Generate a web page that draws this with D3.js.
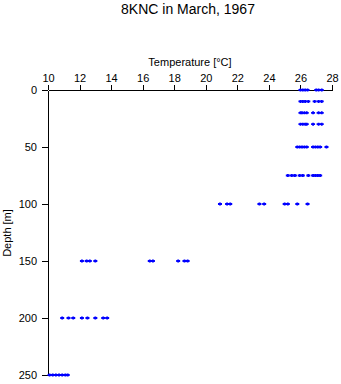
<!DOCTYPE html>
<html><head><meta charset="utf-8">
<script src="https://cdn.jsdelivr.net/npm/d3@7"></script>
<style>body{margin:0;background:#fff}svg{display:block}text{font-family:"Liberation Sans",Arial,sans-serif;fill:#000}</style>
</head><body><svg id="c" width="341" height="384"></svg>
<script>
const depths = [0, 10, 20, 30, 50, 75, 100, 150, 200, 250];
const temps0 = [26.0, 26.15, 26.3, 26.45, 27.0, 27.15, 27.35];
const temps10 = [26.0, 26.15, 26.3, 26.5, 26.9, 27.15, 27.35];
const temps20 = [26.0, 26.1, 26.25, 26.4, 26.8, 27.15, 27.35];
const temps30 = [26.0, 26.15, 26.3, 26.4, 26.8, 27.15, 27.35];
const temps50 = [25.8, 25.95, 26.1, 26.25, 26.4, 26.8, 26.95, 27.1, 27.25, 27.65];
const temps75 = [25.2, 25.45, 25.65, 25.95, 26.15, 26.5, 26.8, 26.95, 27.1, 27.25];
const temps100 = [20.9, 21.35, 21.55, 23.4, 23.7, 25.0, 25.2, 25.8, 26.45];
const temps150 = [12.15, 12.45, 12.65, 13.0, 16.45, 16.65, 18.25, 18.65, 18.85];
const temps200 = [10.9, 11.3, 11.6, 12.15, 12.5, 13.0, 13.5, 13.75];
const temps250 = [10.1, 10.3, 10.5, 10.7, 10.9, 11.1, 11.25];
const tempsByDepth = [temps0, temps10, temps20, temps30, temps50, temps75, temps100, temps150, temps200, temps250];
const xTicks = [10, 12, 14, 16, 18, 20, 22, 24, 26, 28];
const yTicks = [0, 50, 100, 150, 200, 250];

const svg = d3.select("#c");
const x = d3.scaleLinear().domain([10, 28]).range([48, 332]);
const y = d3.scaleLinear().domain([0, 250]).range([90, 375]);

const pts = [];
depths.forEach((d, i) => tempsByDepth[i].forEach(t => pts.push({d, t})));

svg.append("text").attr("x", 188).attr("y", 14).attr("text-anchor", "middle")
  .style("font-size", "14px").text("8KNC in March, 1967");
svg.append("text").attr("x", 190).attr("y", 66).attr("text-anchor", "middle")
  .style("font-size", "11px").text("Temperature [°C]");
svg.append("text").attr("transform", "translate(11,233) rotate(-90)").attr("text-anchor", "middle")
  .style("font-size", "11px").text("Depth [m]");

const gx = svg.append("g").attr("transform", "translate(0,90)")
  .call(d3.axisTop(x).tickValues(xTicks).tickSize(5).tickPadding(3).tickSizeOuter(0));
const gy = svg.append("g").attr("transform", "translate(48,0)")
  .call(d3.axisLeft(y).tickValues(yTicks).tickSize(6).tickPadding(5).tickSizeOuter(0));
[gx, gy].forEach(g => {
  g.selectAll("path,line").attr("stroke", "#000").attr("stroke-width", 1).attr("shape-rendering", "crispEdges");
  g.selectAll("text").style("font-size", "11px").style("font-family", '"Liberation Sans",Arial,sans-serif').attr("fill", "#000");
});

svg.append("g").selectAll("path").data(pts).join("path")
  .attr("transform", p => `translate(${x(p.t)},${y(p.d)})`)
  .attr("d", "M-2,0H2M0,-1.5V1.5")
  .attr("stroke", "#0000ff").attr("stroke-width", 1.8).attr("fill", "none");
</script></body></html>
